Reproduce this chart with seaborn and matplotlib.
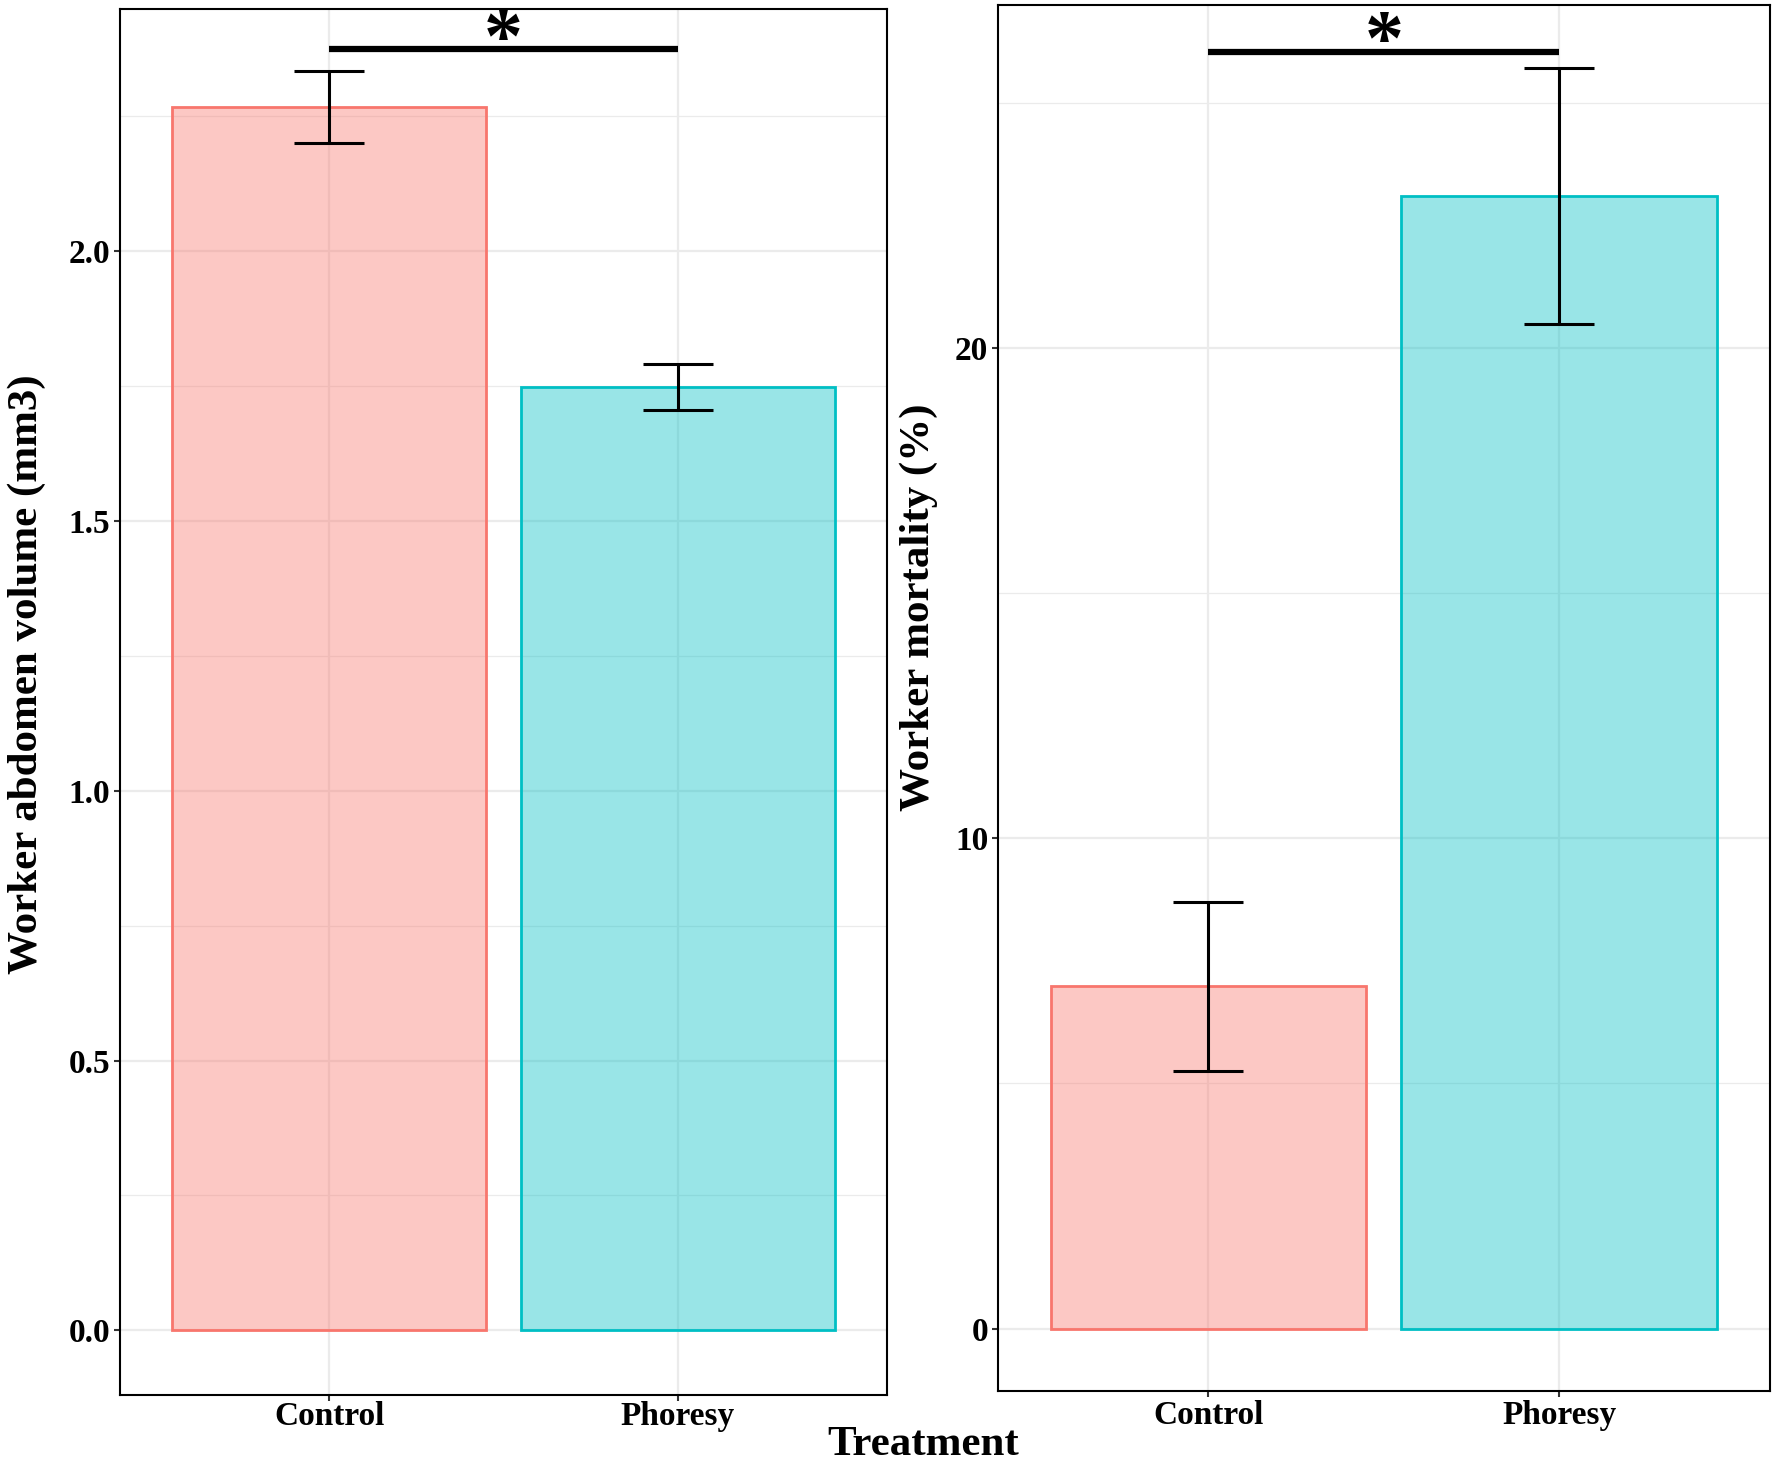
import numpy as np
import pandas as pd
import matplotlib
matplotlib.use("Agg")
import matplotlib.pyplot as plt
import seaborn as sns

sns.set_style("white")
plt.rcParams['font.family'] = ['Liberation Serif', 'DejaVu Serif']
plt.rcParams['font.weight'] = 'bold'
plt.rcParams['text.color'] = 'black'
plt.rcParams['axes.labelcolor'] = 'black'

# data
treatment = ["Control", "Phoresy"]
volume_mean = [2.267, 1.748]
volume_se = [0.067, 0.042]
mortality_mean = [6.98, 23.09]
mortality_se = [1.73, 2.61]

fills = ["#F8766D", "#00BFC4"]

fig = plt.figure(figsize=(17.76, 14.64), dpi=100)
ax1 = fig.add_axes([0.0676, 0.0471, 0.4318, 0.9468])
ax2 = fig.add_axes([0.5619, 0.0499, 0.4347, 0.9470])


def draw_panel(ax, means, ses, ylab, ylim, major, minor, sig_y, xpad, lab_xy):
    df = pd.DataFrame({"Treatment": treatment, "value": means})
    sns.barplot(data=df, x="Treatment", y="value", hue="Treatment",
                palette=fills, width=0.9, legend=False, ax=ax, zorder=2)
    for patch, c in zip(ax.patches, fills):
        patch.set_facecolor(matplotlib.colors.to_rgba(c, 0.4))
        patch.set_edgecolor(c)
        patch.set_linewidth(2)
    ax.errorbar(x=[0, 1], y=means, yerr=ses, fmt='none', ecolor='black',
                elinewidth=2.2, capsize=25, capthick=2.2, zorder=3)
    # significance bar + star
    ax.plot([0, 1], [sig_y, sig_y], color='black', lw=4.5, solid_capstyle='butt', zorder=4)
    ax.annotate("*", xy=(0.5, sig_y), xytext=(0, -8), textcoords='offset points',
                ha='center', va='baseline', fontsize=56, fontweight='bold', zorder=4)

    ax.set_xlim(-0.6, 1.6)
    ax.set_ylim(*ylim)
    ax.set_yticks(major)
    ax.set_yticks(minor, minor=True)
    ax.grid(True, which='major', color='#EBEBEB', lw=1.6, zorder=0)
    ax.grid(True, which='minor', axis='y', color='#EBEBEB', lw=0.9, zorder=0)
    ax.set_axisbelow(True)
    for s in ax.spines.values():
        s.set_color('black')
        s.set_linewidth(1.5)
    ax.tick_params(axis='both', which='major', length=4, width=1.5, color='#333333',
                   labelsize=24, labelcolor='black', left=True, bottom=True)
    ax.tick_params(axis='y', which='major', pad=3)
    ax.tick_params(axis='x', which='major', pad=xpad)
    ax.tick_params(axis='y', which='minor', length=0)
    for lab in ax.get_xticklabels() + ax.get_yticklabels():
        lab.set_fontweight('bold')
    ax.set_xlabel("")
    ax.set_ylabel(ylab, fontsize=31, fontweight='bold')
    ax.yaxis.set_label_coords(*lab_xy)


draw_panel(ax1, volume_mean, volume_se, "Worker abdomen volume (mm3)",
           (-0.12, 2.449), [0.0, 0.5, 1.0, 1.5, 2.0], [0.25, 0.75, 1.25, 1.75, 2.25],
           2.374, 0.5, (-0.096, 0.52))
ax1.set_yticklabels(["0.0", "0.5", "1.0", "1.5", "2.0"])
draw_panel(ax2, mortality_mean, mortality_se, "Worker mortality (%)",
           (-1.27, 27.0), [0, 10, 20], [5, 15, 25], 26.03, 2.5, (-0.077, 0.565))

fig.text(0.52, 0.006, "Treatment", ha='center', va='baseline', fontsize=31, fontweight='bold')

fig.savefig("out.png", dpi=100)
